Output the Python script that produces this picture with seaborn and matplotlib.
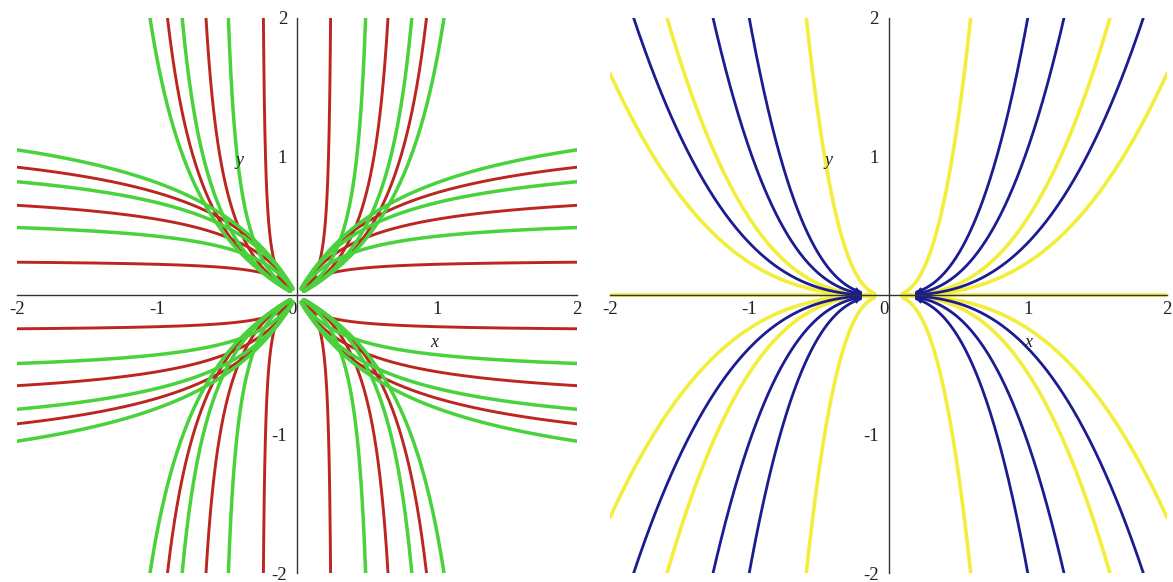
import numpy as np
import pandas as pd
import matplotlib
matplotlib.use("Agg")
import matplotlib.pyplot as plt
import seaborn as sns

# ---- left panel: two interleaved families of curves through the origin ----
# level of each curve at |x| = 0.5 and at |x| = 2 (the mirrored branch uses the same values in y)
red_at_half = [0.20, 0.42, 0.53]
red_at_two = [0.24, 0.65, 0.925]
green_at_half = [0.34, 0.49, 0.56]
green_at_two = [0.49, 0.82, 1.05]

# ---- right panel: power curves y = c*|x|**n, tangent to the x-axis ----
power_exp = 2.75
blue_x_at_top = [1.00, 1.26, 1.83]     # where the curve leaves through y = +-2
yellow_x_at_top = [0.59, 1.59]
yellow_y_at_side = [1.60]               # where the curve leaves through x = +-2

tick_major = [-2, -1, 0, 1, 2]
tick_labels = ["-2", "-1", "0", "1", "2"]

RED = "#bb2620"
GREEN = "#48d23c"
BLUE = "#1c1c92"
YELLOW = "#f3ee3c"

sns.set_style("white")
plt.rcParams["font.family"] = ["Liberation Serif", "DejaVu Serif"]


def saturating(u, y_half, y_two):
    # 1/y = A + B/u, passing through the two read levels
    b = (1.0 / y_half - 1.0 / y_two) / 1.5
    a = 1.0 / y_two - 0.5 * b
    return u / (a * u + b)


def left_frame(halves, twos, fam):
    parts = []
    cid = 0
    u = np.linspace(0.03, 2.0, 300)
    for yh, y2 in zip(halves, twos):
        v = saturating(u, yh, y2)
        for sx in (1, -1):
            for sy in (1, -1):
                parts.append(pd.DataFrame({"x": sx * u, "y": sy * v,
                                           "curve": f"{fam}{cid}", "family": fam}))
                cid += 1
                parts.append(pd.DataFrame({"x": sx * v, "y": sy * u,
                                           "curve": f"{fam}{cid}", "family": fam}))
                cid += 1
    return pd.concat(parts, ignore_index=True)


def right_frame(coefs, start, fam):
    parts = []
    cid = 0
    for c in coefs:
        x_end = 2.0 if c == 0 else min(2.0, (2.0 / c) ** (1.0 / power_exp))
        u = np.linspace(start, x_end, 300)
        v = c * u ** power_exp
        for sx in (1, -1):
            for sy in ((1, -1) if c != 0 else (1,)):
                parts.append(pd.DataFrame({"x": sx * u, "y": sy * v,
                                           "curve": f"{fam}{cid}", "family": fam}))
                cid += 1
    return pd.concat(parts, ignore_index=True)


red_df = left_frame(red_at_half, red_at_two, "red")
green_df = left_frame(green_at_half, green_at_two, "green")

blue_c = [2.0 / xt ** power_exp for xt in blue_x_at_top]
yellow_c = [0.0] + [2.0 / xt ** power_exp for xt in yellow_x_at_top] + \
           [ys / 2.0 ** power_exp for ys in yellow_y_at_side]
blue_df = right_frame(blue_c, 0.2, "blue")
yellow_df = right_frame(yellow_c, 0.1, "yellow")

W, H = 1173, 582
fig = plt.figure(figsize=(W / 100, H / 100), dpi=100)
ax_l = fig.add_axes([17 / W, 9 / H, 560 / W, 555 / H])
ax_r = fig.add_axes([610 / W, 9 / H, 557 / W, 555 / H])

common = dict(units="curve", estimator=None, sort=False, legend=False)
sns.lineplot(data=red_df, x="x", y="y", color=RED, lw=2.1, ax=ax_l, **common)
sns.lineplot(data=green_df, x="x", y="y", color=GREEN, lw=2.5, ax=ax_l, **common)
sns.lineplot(data=yellow_df, x="x", y="y", color=YELLOW, lw=2.6, ax=ax_r, **common)
sns.lineplot(data=blue_df, x="x", y="y", color=BLUE, lw=2.0, ax=ax_r, **common)

# small arrowheads where the blue curves meet the axis
for c in blue_c:
    for sx in (1, -1):
        for sy in (1, -1):
            ax_r.annotate("", xy=(sx * 0.2, sy * c * 0.2 ** power_exp),
                          xytext=(sx * 0.28, sy * c * 0.28 ** power_exp),
                          arrowprops=dict(arrowstyle="-|>", color=BLUE, lw=1.0,
                                          mutation_scale=7, shrinkA=0, shrinkB=0))

for ax in (ax_l, ax_r):
    ax.set_xlim(-2, 2)
    ax.set_ylim(-2, 2)
    ax.set_xlabel("")
    ax.set_ylabel("")
    for side in ("top", "right"):
        ax.spines[side].set_visible(False)
    for side in ("left", "bottom"):
        ax.spines[side].set_position("zero")
        ax.spines[side].set_color("#333333")
        ax.spines[side].set_linewidth(1.0)
        ax.spines[side].set_zorder(3)
    ax.set_xticks(tick_major)
    ax.set_xticklabels(tick_labels)
    ax.set_yticks([-2, -1, 1, 2])
    ax.set_yticklabels(["-2", "-1", "1", "2"])
    ax.set_xticks([-1.5, -0.5, 0.5, 1.5], minor=True)
    ax.set_yticks([-1.5, -0.5, 0.5, 1.5], minor=True)
    ax.tick_params(axis="x", which="both", direction="in", length=3.5, width=0.9,
                   color="#333333", labelsize=13.5, pad=4, labelcolor="#222222")
    ax.tick_params(axis="y", which="major", direction="out", length=5, width=0.9,
                   color="#333333", labelsize=13.5, pad=2, labelcolor="#222222")
    ax.tick_params(axis="y", which="minor", direction="out", length=2, width=0.9,
                   color="#333333")
    for lbl in ax.get_xticklabels():
        if lbl.get_text() == "0":
            lbl.set_horizontalalignment("right")
    ax.set_facecolor("white")
    ax.grid(False)

lab = dict(fontsize=13, style="italic", color="#222222", ha="center", va="center")
ax_l.text(0.98, -0.34, "x", **lab)
ax_l.text(-0.41, 0.97, "y", **lab)
ax_r.text(1.0, -0.34, "x", **lab)
ax_r.text(-0.43, 0.97, "y", **lab)

fig.savefig("out.png", dpi=100, facecolor="white")
